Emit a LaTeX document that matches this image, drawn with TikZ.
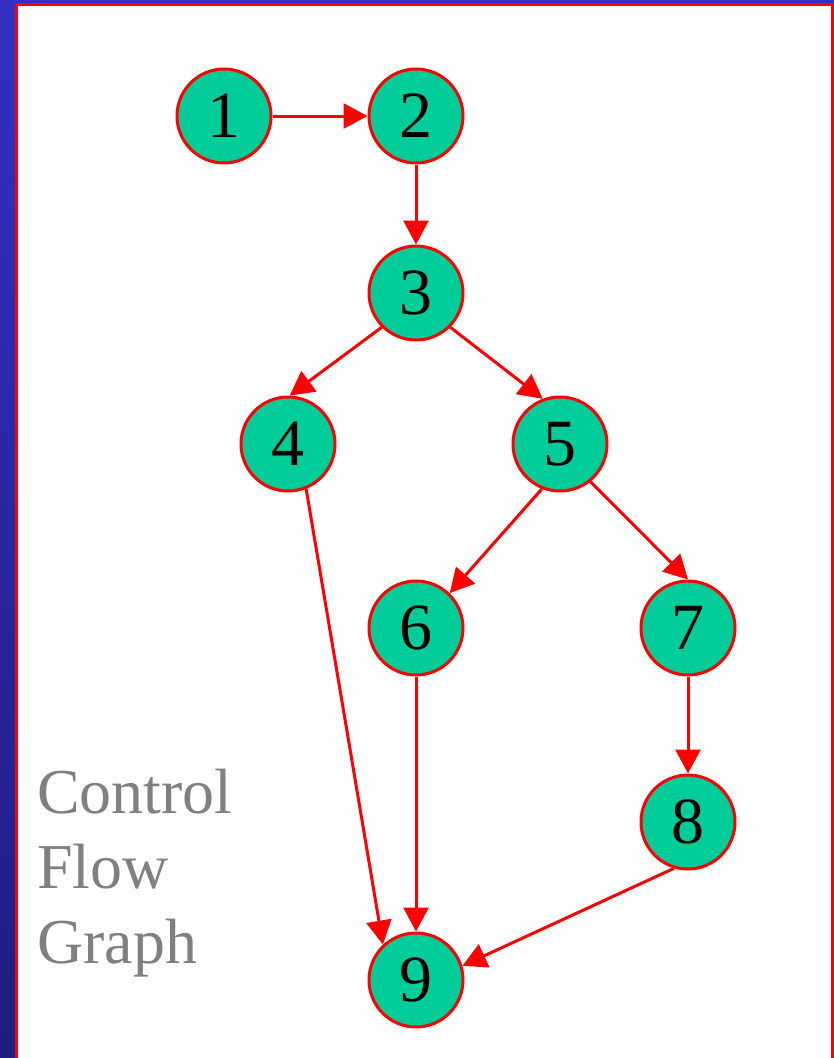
\documentclass[tikz,border=0pt]{standalone}
\usepackage{fontspec}
\setmainfont{Liberation Serif}
\usetikzlibrary{arrows.meta}
\definecolor{nodegreen}{RGB}{0,204,153}
\definecolor{edgered}{RGB}{255,0,0}
\definecolor{bgtop}{RGB}{50,48,196}
\definecolor{bgbot}{RGB}{32,28,128}
\definecolor{labelgray}{RGB}{128,128,128}
\tikzset{
  vertex/.style={circle, draw=edgered, line width=3pt, fill=nodegreen, minimum size=94pt, inner sep=0pt, font=\fontsize{66}{66}\selectfont},
  edge/.style={draw=edgered, line width=3pt, -{Triangle[length=24pt,width=25pt]}},
  caption/.style={anchor=base west, inner sep=0pt, text=labelgray, font=\fontsize{64}{76}\selectfont}
}
\begin{document}
\begin{tikzpicture}[x=1pt,y=-1pt]
\useasboundingbox (0,0) rectangle (834,1058);
\shade[top color=bgtop, bottom color=bgbot] (0,0) rectangle (834,1058);
\fill[white] (16.5,4.5) rectangle (832.5,1062);
\draw[edgered, line width=3pt] (16.5,1062) -- (16.5,4.5) -- (832.5,4.5) -- (832.5,1062);

\node[vertex] (n1) at (224,116) {1};
\node[vertex] (n2) at (416,116) {2};
\node[vertex] (n3) at (416,293) {3};
\node[vertex] (n4) at (288,444) {4};
\node[vertex] (n5) at (560,444) {5};
\node[vertex] (n6) at (416,628) {6};
\node[vertex] (n7) at (688,628) {7};
\node[vertex] (n8) at (688,822) {8};
\node[vertex] (n9) at (416,980) {9};

\draw[edge] (n1.east) -- (n2.west);
\draw[edge] (n2.south) -- (n3.north);
\draw[edge] (n3.225) -- (n4.88);
\draw[edge] (n3.315) -- (n5.111);
\draw[edge] (n4.292) -- (n9.133);
\draw[edge] (n5.248) -- (n6.46);
\draw[edge] (n5.309) -- (n7.north);
\draw[edge] (n6.south) -- (n9.north);
\draw[edge] (n7.south) -- (n8.north);
\draw[edge] (n8.253) -- (n9.17);

\node[caption] (cap1) at (37,813) {Control};
\node[caption] (cap2) at (37,888) {Flow};
\node[caption] (cap3) at (37,963) {Graph};
\end{tikzpicture}
\end{document}
